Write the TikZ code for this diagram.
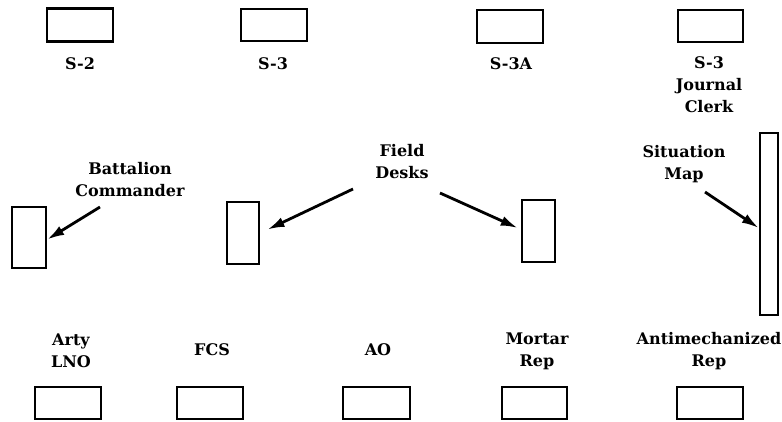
\documentclass[tikz,border=0pt]{standalone}
\usepackage{fontspec}
\setmainfont{DejaVu Serif}
\usetikzlibrary{arrows.meta}
\begin{document}
\begin{tikzpicture}[x=1pt,y=-1pt,
  desk/.style={draw,line width=2.5pt,inner sep=0pt,minimum width=#1},
  lbl/.style={font=\fontsize{16}{22}\selectfont\bfseries,align=center,inner sep=0pt},
  pointer/.style={line width=2.8pt,-{Latex[length=17pt,width=10pt]}}]
\useasboundingbox (0,0) rectangle (782,421);
% top row
\node[desk=66pt,minimum height=33pt] (s2) at (80,25) {};
\node[desk=66pt,minimum height=32pt] (s3) at (274,25) {};
\node[desk=66pt,minimum height=33pt] (s3a) at (510,26.5) {};
\node[desk=65pt,minimum height=32pt] (jc) at (710.5,26) {};
\node[lbl] (ls2) at (80,63.5) {S-2};
\node[lbl] (ls3) at (273,63.5) {S-3};
\node[lbl] (ls3a) at (511,63.5) {S-3A};
\node[lbl] (ljc) at (709,84.5) {S-3\\Journal\\Clerk};
% middle
\node[desk=34pt,minimum height=61pt] (bc) at (29,237.5) {};
\node[desk=32pt,minimum height=62pt] (fd1) at (243,233) {};
\node[desk=33pt,minimum height=62pt] (fd2) at (538.5,231) {};
\node[desk=18pt,minimum height=182pt] (map) at (769,224) {};
\node[lbl] (lbc) at (130,180) {Battalion\\Commander};
\node[lbl] (lfd) at (402,162) {Field\\Desks};
\node[lbl] (lmap) at (684,164) {Situation\\Map};
\coordinate (tbc) at (100,207);
\coordinate (tfd1) at (353,189);
\coordinate (tfd2) at (440,193);
\coordinate (tmap) at (705,192);
\draw[pointer] (tbc) -- ([yshift=-2pt]bc.east);
\draw[pointer,shorten >=8pt] (tfd1) -- (fd1.east);
\draw[pointer] (tfd2) -- ([xshift=-3pt,yshift=3pt]fd2.west);
\draw[pointer] (tmap) -- ([yshift=-4pt]map.west);
% bottom row
\node[desk=66pt,minimum height=32pt] (arty) at (68,403) {};
\node[desk=66pt,minimum height=32pt] (fcs) at (210,403) {};
\node[desk=67pt,minimum height=32pt] (ao) at (376.5,403) {};
\node[desk=65pt,minimum height=32pt] (mortar) at (534.5,403) {};
\node[desk=66pt,minimum height=32pt] (anti) at (710,403) {};
\node[lbl] (larty) at (71,351) {Arty\\LNO};
\node[lbl] (lfcs) at (212,350) {FCS};
\node[lbl] (lao) at (378,350) {AO};
\node[lbl] (lmortar) at (537,351) {Mortar\\Rep};
\node[lbl] (lanti) at (709,351) {Antimechanized\\Rep};
\end{tikzpicture}
\end{document}
